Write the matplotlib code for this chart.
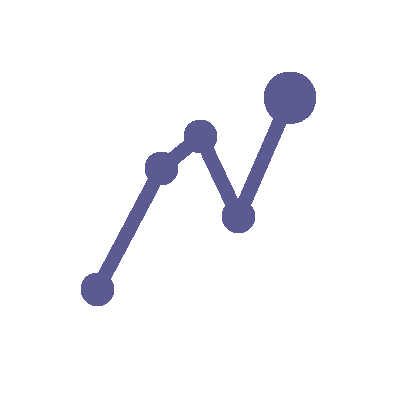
import matplotlib
matplotlib.use("Agg")
import matplotlib.pyplot as plt

x_values = [97.4, 161.4, 200.4, 238.4, 290.0]
y_values = [289.4, 168.4, 136.4, 216.4, 97.8]
sizes = [16.3, 16.3, 16.3, 16.3, 25.8]
color = "#5b5a91"

fig = plt.figure(figsize=(4, 4), dpi=100)
ax = fig.add_axes([0, 0, 1, 1])
ax.set_xlim(0, 400)
ax.set_ylim(400, 0)
ax.axis("off")
ax.plot(x_values, y_values, color=color, lw=9.4, solid_joinstyle="round", antialiased=False, zorder=2)
# scatter area is in points^2; radius px -> diameter pt
ax.scatter(x_values, y_values, s=[(2 * r * 72 / 100) ** 2 for r in sizes], color=color, linewidths=0, antialiased=False, zorder=3)
fig.savefig("out.png", dpi=100)
